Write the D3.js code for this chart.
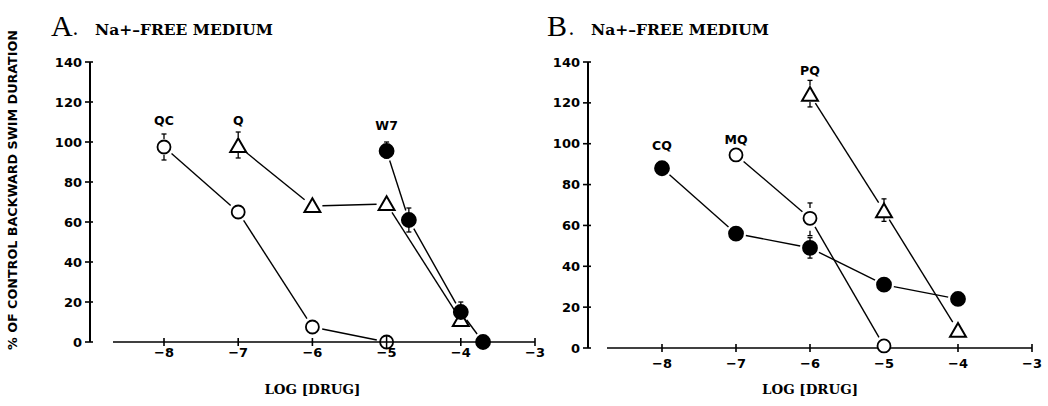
<!DOCTYPE html>
<html>
<head>
<meta charset="utf-8">
<script src="https://cdn.jsdelivr.net/npm/d3@7"></script>
<style>
  body { margin: 0; background: #fff; }
  svg { display: block; }
</style>
</head>
<body>
<div id="chart"></div>
<script>
// ---- data ----
const xTicks = [-8, -7, -6, -5, -4, -3];
const yTicks = [0, 20, 40, 60, 80, 100, 120, 140];

// panel A : Na+-free medium
const qcA = [[-8, 97.5], [-7, 65], [-6, 7.5], [-5, 0]];
const qA = [[-7, 98], [-6, 68], [-5, 69], [-4, 11]];
const w7A = [[-5, 95.5], [-4.7, 61], [-4, 15], [-3.7, 0]];
const errA = [[-8, 91, 104], [-7, 92, 105], [-5, 92, 100], [-4.7, 55, 67], [-4, 11, 20]];
const labelsA = [["QC", -8, 108.5], ["Q", -7, 108.5], ["W7", -5, 106]];

// panel B : Na+-free medium
const cqB = [[-8, 88], [-7, 56], [-6, 49], [-5, 31], [-4, 24]];
const mqB = [[-7, 94.5], [-6, 63.5], [-5, 1]];
const pqB = [[-6, 124], [-5, 67], [-4, 8.5]];
const errB = [[-6, 118, 131], [-5, 62, 73], [-6, 55, 71], [-6, 44, 54]];
const labelsB = [["CQ", -8, 97], ["MQ", -7, 100], ["PQ", -6, 133.5]];

const W = 1048, H = 406;
const sans = "'DejaVu Sans', sans-serif";
const serif = "'DejaVu Serif', serif";

const svg = d3.select("#chart").append("svg")
  .attr("width", W).attr("height", H)
  .style("background", "#fff");

// marker shapes
const tri = d3.symbol().type(d3.symbolTriangle).size(110);

function drawPanel(o) {
  const x = d3.scaleLinear().domain([-8, -3]).range(o.xr);
  const y = d3.scaleLinear().domain([0, 140]).range(o.yr);
  const g = svg.append("g");

  // title
  g.append("text").attr("x", o.titleX).attr("y", 36)
    .attr("font-family", "'Liberation Serif', serif").attr("font-size", 30)
    .text(o.letter);
  g.append("text").attr("x", o.titleX + 22).attr("y", 35)
    .attr("font-family", serif).attr("font-size", 14).attr("font-weight", "bold")
    .text(".");
  g.append("text").attr("x", o.titleX + 44).attr("y", 35)
    .attr("font-family", serif).attr("font-size", 15).attr("font-weight", "bold")
    .attr("textLength", 178).attr("lengthAdjust", "spacingAndGlyphs")
    .text("Na+\u2013FREE MEDIUM");

  // y axis
  const x0 = o.yAxisX;
  g.append("line").attr("x1", x0).attr("x2", x0).attr("y1", y(140)).attr("y2", y(0))
    .attr("stroke", "#000").attr("stroke-width", 2);
  g.selectAll(".yt").data(yTicks).enter().append("line")
    .attr("x1", x0 - 5).attr("x2", x0 + 3)
    .attr("y1", d => y(d)).attr("y2", d => y(d))
    .attr("stroke", "#000").attr("stroke-width", 1.6);
  g.selectAll(".yl").data(yTicks).enter().append("text")
    .attr("x", x0 - 8).attr("y", d => y(d) + 4.5)
    .attr("text-anchor", "end")
    .attr("font-family", sans).attr("font-weight", "bold").attr("font-size", 13)
    .text(d => d);

  // x axis
  const ya = y(0);
  g.append("line").attr("x1", o.xAxisStart).attr("x2", x(-3)).attr("y1", ya).attr("y2", ya)
    .attr("stroke", "#000").attr("stroke-width", 1.6);
  g.selectAll(".xt").data(xTicks).enter().append("line")
    .attr("x1", d => x(d)).attr("x2", d => x(d))
    .attr("y1", ya - 4).attr("y2", ya + 4)
    .attr("stroke", "#000").attr("stroke-width", 1.6);
  g.selectAll(".xl").data(xTicks).enter().append("text")
    .attr("x", d => x(d)).attr("y", ya + o.xLabDy)
    .attr("text-anchor", "middle")
    .attr("font-family", sans).attr("font-weight", "bold").attr("font-size", 13)
    .text(d => "\u2212" + Math.abs(d));
  g.append("text").attr("x", x(-6)).attr("y", o.xTitleY)
    .attr("text-anchor", "middle")
    .attr("font-family", serif).attr("font-weight", "bold").attr("font-size", 13)
    .attr("textLength", 96).attr("lengthAdjust", "spacingAndGlyphs")
    .text("LOG [DRUG]");

  // error bars
  o.err.forEach(([xv, lo, hi]) => {
    [lo, hi].forEach(v => {
      g.append("line").attr("x1", x(xv)).attr("x2", x(xv))
        .attr("y1", y(v)).attr("y2", y(v) + (v === hi ? 5 : -5))
        .attr("stroke", "#000").attr("stroke-width", 1.3);
      g.append("line").attr("x1", x(xv) - 2.5).attr("x2", x(xv) + 2.5)
        .attr("y1", y(v)).attr("y2", y(v))
        .attr("stroke", "#000").attr("stroke-width", 1.3);
    });
  });

  // connecting segments, stopping short of the markers
  o.series.forEach(s => {
    const pts = s.data.map(d => [x(d[0]), y(d[1])]);
    d3.pairs(pts).forEach(([a, b]) => {
      const dx = b[0] - a[0], dy = b[1] - a[1];
      const len = Math.hypot(dx, dy), gap = 10;
      if (len < 2 * gap) return;
      g.append("line")
        .attr("x1", a[0] + dx / len * gap).attr("y1", a[1] + dy / len * gap)
        .attr("x2", b[0] - dx / len * gap).attr("y2", b[1] - dy / len * gap)
        .attr("stroke", "#000").attr("stroke-width", 1.4);
    });
  });

  // markers
  o.series.forEach(s => {
    const m = g.selectAll(null).data(s.data).enter();
    if (s.shape === "tri") {
      m.append("path").attr("d", tri)
        .attr("transform", d => `translate(${x(d[0])},${y(d[1]) + 1.5})`)
        .attr("fill", "#fff").attr("stroke", "#000").attr("stroke-width", 2);
    } else {
      m.append("circle").attr("cx", d => x(d[0])).attr("cy", d => y(d[1]))
        .attr("r", s.shape === "fill" ? 7 : 6.5)
        .attr("fill", s.shape === "fill" ? "#000" : "#fff")
        .attr("stroke", "#000").attr("stroke-width", 1.8);
    }
  });
  // the -5 open circle of QC sits on the axis: redraw axis cross through it
  if (o.letter === "A") {
    g.append("line").attr("x1", x(-5) - 6).attr("x2", x(-5) + 6).attr("y1", ya).attr("y2", ya)
      .attr("stroke", "#000").attr("stroke-width", 1.5);
    g.append("line").attr("x1", x(-5)).attr("x2", x(-5)).attr("y1", ya - 6).attr("y2", ya + 6)
      .attr("stroke", "#000").attr("stroke-width", 1.5);
  }

  // drug labels
  g.selectAll(".lab").data(o.labels).enter().append("text")
    .attr("x", d => x(d[1])).attr("y", d => y(d[2]))
    .attr("text-anchor", "middle")
    .attr("font-family", sans).attr("font-weight", "bold").attr("font-size", 12.5)
    .text(d => d[0]);
}

drawPanel({
  letter: "A", titleX: 51, xr: [164, 535], yr: [342, 62], yAxisX: 90, xAxisStart: 113,
  xLabDy: 15, xTitleY: 394,
  series: [{data: qcA, shape: "open"}, {data: qA, shape: "tri"}, {data: w7A, shape: "fill"}],
  err: errA, labels: labelsA
});
drawPanel({
  letter: "B", titleX: 547, xr: [662, 1032], yr: [348, 62], yAxisX: 588, xAxisStart: 607,
  xLabDy: 20, xTitleY: 394,
  series: [{data: cqB, shape: "fill"}, {data: mqB, shape: "open"}, {data: pqB, shape: "tri"}],
  err: errB, labels: labelsB
});

// shared y-axis title
svg.append("text")
  .attr("transform", "translate(17,190) rotate(-90)")
  .attr("text-anchor", "middle")
  .attr("font-family", sans).attr("font-weight", "bold").attr("font-size", 11.5)
  .attr("textLength", 320).attr("lengthAdjust", "spacingAndGlyphs")
  .text("% OF CONTROL BACKWARD SWIM DURATION");
</script>
</body>
</html>
